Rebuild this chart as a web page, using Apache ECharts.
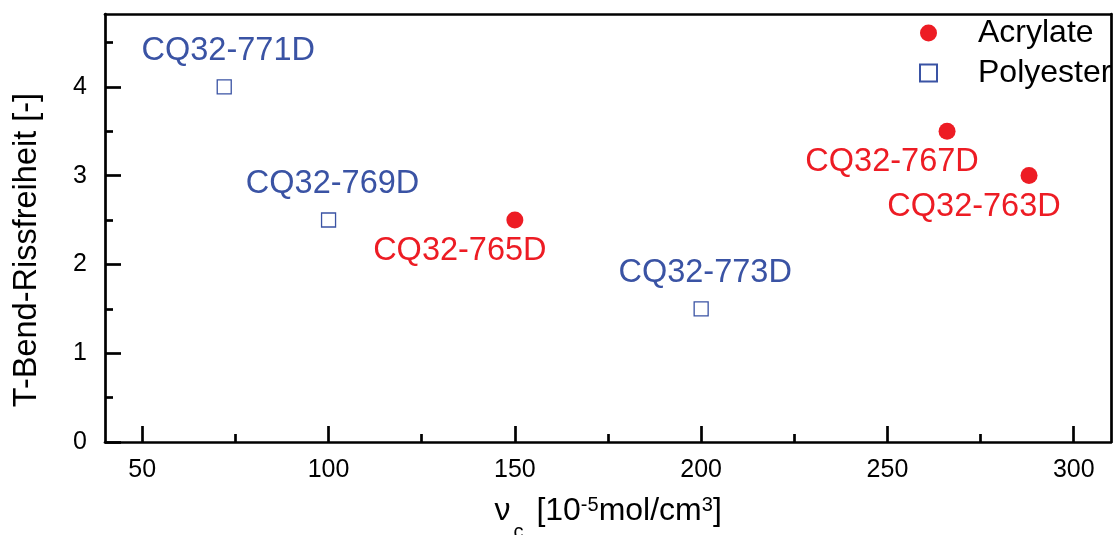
<!DOCTYPE html>
<html>
<head>
<meta charset="utf-8">
<script src="https://cdn.jsdelivr.net/npm/echarts@6/dist/echarts.min.js"></script>
<style>
html,body{margin:0;padding:0;background:#fff;}
#chart{width:1119px;height:535px;}
</style>
</head>
<body>
<div id="chart"></div>
<script>
// ---- data ----
const acrylateNames = ['CQ32-765D', 'CQ32-767D', 'CQ32-763D'];
const acrylateX = [150, 266, 288];
const acrylateY = [2.5, 3.5, 3.0];

const polyesterNames = ['CQ32-771D', 'CQ32-769D', 'CQ32-773D'];
const polyesterX = [72, 100, 200];
const polyesterY = [4.0, 2.5, 1.5];

const xTicks = [50, 100, 150, 200, 250, 300];
const xMinorTicks = [75, 125, 175, 225, 275];
const yTicks = [0, 1, 2, 3, 4];
const yMinorTicks = [0.5, 1.5, 2.5, 3.5, 4.5];

// ---- styles ----
const RED = '#ED1C24';
const BLUE = '#3A53A4';
const FONT = 'Liberation Sans, Arial, Helvetica, sans-serif';

function build(names, xs, ys) {
  return names.map((n, i) => ({ name: n, value: [xs[i], ys[i]] }));
}

const chart = echarts.init(document.getElementById('chart'), null, { renderer: 'canvas' });

const X_MIN = 40, X_MAX = 310, Y_MIN = 0, Y_MAX = 4.82;
const lineStyle = { color: '#000', width: 2.7 };
const tickStyle = { color: '#000', width: 2.7 };

const option = {
  backgroundColor: '#fff',
  animation: false,
  grid: { left: 105, right: 8, top: 14, bottom: 93, containLabel: false, outerBoundsMode: 'none' },
  legend: {
    orient: 'vertical',
    left: 919,
    top: 17,
    padding: 0,
    itemWidth: 17,
    itemHeight: 17,
    itemGap: 8,
    textStyle: { fontSize: 32, lineHeight: 32, color: '#000', fontFamily: FONT, padding: [0, 0, 0, 36] },
    data: ['Acrylate', 'Polyester']
  },
  xAxis: [
    {
      type: 'value', position: 'bottom', min: X_MIN, max: X_MAX,
      axisLine: { show: true, onZero: false, lineStyle },
      axisTick: { show: true, inside: true, length: 16, customValues: xTicks, lineStyle: tickStyle },
      axisLabel: { show: true, customValues: xTicks, margin: 16, fontSize: 25, color: '#000', fontFamily: FONT },
      splitLine: { show: false },
      name: '{sp| }{a|ν}{sub|c}{a| [10}{sup|-5}{a|mol/cm}{sup|3}{a|]}',
      nameLocation: 'middle',
      nameGap: 53,
      nameTextStyle: {
        fontFamily: FONT, color: '#000',
        rich: {
          sp: { fontSize: 1, lineHeight: 47, verticalAlign: 'top' },
          a: { fontSize: 32, fontFamily: FONT, color: '#000', lineHeight: 36, verticalAlign: 'top' },
          sub: { fontSize: 20, fontFamily: FONT, color: '#000', lineHeight: 4, verticalAlign: 'bottom', padding: [0, 4, 0, 3] },
          sup: { fontSize: 20, fontFamily: FONT, color: '#000', lineHeight: 24, verticalAlign: 'top' }
        }
      }
    },
    {
      type: 'value', position: 'bottom', min: X_MIN, max: X_MAX,
      axisLine: { show: false },
      axisTick: { show: true, inside: true, length: 8, customValues: xMinorTicks, lineStyle: tickStyle },
      axisLabel: { show: false },
      splitLine: { show: false }
    },
    {
      type: 'value', position: 'top', min: X_MIN, max: X_MAX,
      axisLine: { show: true, onZero: false, lineStyle },
      axisTick: { show: false }, axisLabel: { show: false }, splitLine: { show: false }
    }
  ],
  yAxis: [
    {
      type: 'value', position: 'left', min: Y_MIN, max: Y_MAX,
      axisLine: { show: true, onZero: false, lineStyle },
      axisTick: { show: true, inside: true, length: 16, customValues: yTicks, lineStyle: tickStyle },
      axisLabel: { show: true, customValues: yTicks, margin: 18, fontSize: 25, color: '#000', fontFamily: FONT },
      splitLine: { show: false }
    },
    {
      type: 'value', position: 'left', min: Y_MIN, max: Y_MAX,
      axisLine: { show: false },
      axisTick: { show: true, inside: true, length: 8, customValues: yMinorTicks, lineStyle: tickStyle },
      axisLabel: { show: false },
      splitLine: { show: false }
    },
    {
      type: 'value', position: 'right', min: Y_MIN, max: Y_MAX,
      axisLine: { show: true, onZero: false, lineStyle },
      axisTick: { show: false }, axisLabel: { show: false }, splitLine: { show: false }
    }
  ],
  graphic: [
    {
      type: 'text',
      x: 27, y: 250,
      rotation: Math.PI / 2,
      style: {
        text: 'T-Bend-Rissfreiheit [-]',
        fontSize: 32.5, fontFamily: FONT, fill: '#000',
        align: 'center', verticalAlign: 'middle'
      }
    }
  ],
  series: [
    {
      name: 'Acrylate', type: 'scatter', xAxisIndex: 0, yAxisIndex: 0,
      symbol: 'circle', symbolSize: 17,
      itemStyle: { color: RED, opacity: 1 },
      label: {
        show: true, position: 'inside', offset: [-55, 31],
        formatter: p => p.name,
        fontSize: 32.5, fontFamily: FONT, color: RED
      },
      emphasis: { disabled: true },
      data: build(acrylateNames, acrylateX, acrylateY)
    },
    {
      name: 'Polyester', type: 'scatter', xAxisIndex: 0, yAxisIndex: 0,
      symbol: 'rect', symbolSize: 14,
      itemStyle: { color: '#fff', borderColor: BLUE, borderWidth: 1.3, opacity: 1 },
      label: {
        show: true, position: 'inside', offset: [4, -36],
        formatter: p => p.name,
        fontSize: 32.5, fontFamily: FONT, color: BLUE
      },
      emphasis: { disabled: true },
      data: build(polyesterNames, polyesterX, polyesterY)
    }
  ]
};

chart.setOption(option);
</script>
</body>
</html>
